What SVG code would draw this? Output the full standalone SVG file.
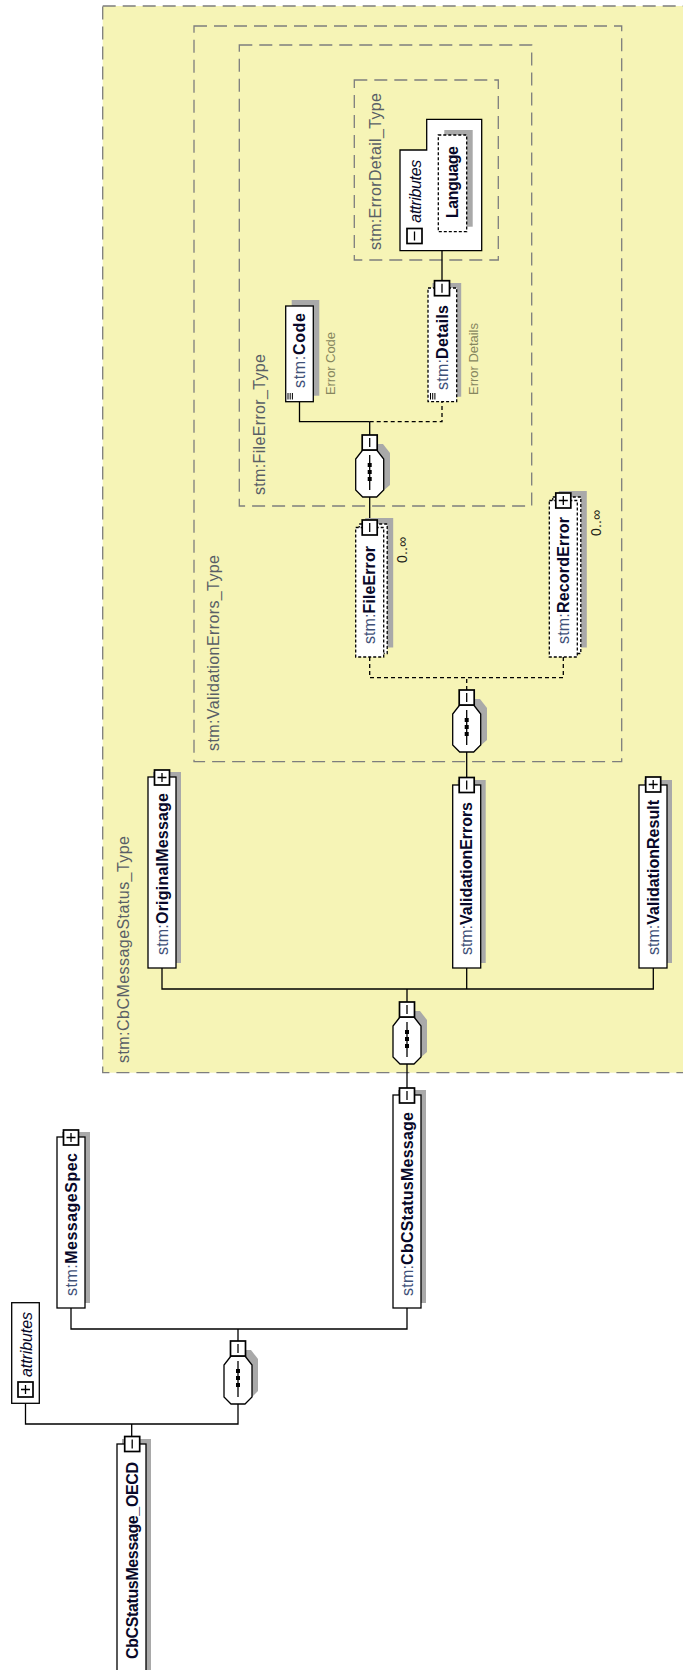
<svg xmlns="http://www.w3.org/2000/svg" width="683" height="1670" viewBox="0 0 683 1670">
<style>
.type{fill:#f6f4b6;stroke:#7d7d7d;stroke-width:1.3;stroke-dasharray:13 7}
.el{fill:#fff;stroke:#000;stroke-width:1.3}
.opt{fill:#fff;stroke:#000;stroke-width:1.3;stroke-dasharray:3 2}
.sh{fill:#a9a9a9}
.btn{fill:#fff;stroke:#000;stroke-width:1.7}
.bl{fill:none;stroke:#000;stroke-width:1.3}
.ln{fill:none;stroke:#000;stroke-width:1.3}
.dln{fill:none;stroke:#000;stroke-width:1.3;stroke-dasharray:4 3}
.seq{fill:#fff;stroke:#000;stroke-width:1.3}
text{font-family:"Liberation Sans",Arial,sans-serif}
.tl{font-size:16px;fill:#595f66}
.nm{font-size:16px;fill:#3f5178}
.b{font-weight:bold;fill:#080828}
.ann{font-size:13px;fill:#86865e}
.occ{font-size:14px;fill:#222218}
.att{font-size:16px;font-style:italic;fill:#080828}
</style>

<g id="CbCMessageStatus_Type">
<rect class="type" x="102.7" y="6" width="640" height="1066.7"/>
<text class="tl" transform="translate(128.7,1063) rotate(-90)" textLength="227" lengthAdjust="spacing">stm:CbCMessageStatus_Type</text>
</g>
<g id="ValidationErrors_Type">
<rect class="type" x="194" y="26" width="427.7" height="735.7"/>
<text class="tl" transform="translate(219,751) rotate(-90)" textLength="196" lengthAdjust="spacing">stm:ValidationErrors_Type</text>
</g>
<g id="FileError_Type">
<rect class="type" x="239.3" y="45" width="292.4" height="461"/>
<text class="tl" transform="translate(264.7,495) rotate(-90)" textLength="141" lengthAdjust="spacing">stm:FileError_Type</text>
</g>
<g id="ErrorDetail_Type">
<rect class="type" x="354.3" y="80" width="144" height="180"/>
<text class="tl" transform="translate(380.7,250) rotate(-90)" textLength="157" lengthAdjust="spacing">stm:ErrorDetail_Type</text>
</g>

<g id="connectors">
<path class="ln" d="M131.7,1436 V1424 M25.5,1403.3 V1424 H238 V1404"/>
<path class="ln" d="M238,1341 V1329 M71,1308 V1329 H407 V1308"/>
<path class="ln" d="M407,1088 V1064"/>
<path class="ln" d="M407,1002 V989 M162,968 V989 H653.3 V968 M466.7,968 V989"/>
<path class="ln" d="M466.7,777 V752"/>
<path class="dln" d="M466.7,690 V677.7 M369.7,657 V677.7 H563.3 V657"/>
<path class="ln" d="M369.7,520 V497"/>
<path class="ln" d="M369.7,435 V421.7 M299.5,401.7 V421.7 H369.7"/>
<path class="dln" d="M369.7,421.7 H442 V401.7"/>
<path class="ln" d="M442,280.7 V250.7"/>
</g>

<g id="CbCStatusMessage_OECD">
<rect class="sh" x="122" y="1439" width="29" height="240"/>
<rect class="el" x="117" y="1444" width="29" height="240"/>
<rect class="btn" x="124.7" y="1436.5" width="15" height="15"/>
<path class="bl" d="M132.2,1439.5 V1448.5"/>
<text class="nm b" transform="translate(137.7,1659) rotate(-90)" textLength="197" lengthAdjust="spacing">CbCStatusMessage_OECD</text>
</g>

<g id="attributes_top">
<rect class="el" x="11.7" y="1302.7" width="27.6" height="100.6"/>
<rect class="btn" x="18" y="1382" width="15" height="15"/>
<path class="bl" d="M25.5,1385 V1394 M21,1389.5 H30"/>
<text class="att" transform="translate(31.7,1377) rotate(-90)" textLength="65" lengthAdjust="spacing">attributes</text>
</g>

<g id="seq_top">
<polygon class="sh" points="237,1350 251,1350 258,1359 258,1391 251,1398 237,1398 230,1391 230,1359"/>
<polygon class="seq" points="231,1356 245,1356 252,1365 252,1397 245,1404 231,1404 224,1397 224,1365"/>
<path class="bl" d="M238,1361 V1397"/>
<rect x="236" y="1369" width="4" height="4"/><rect x="236" y="1376" width="4" height="4"/><rect x="236" y="1383" width="4" height="4"/>
<rect class="btn" x="230.5" y="1341" width="15" height="15"/>
<path class="bl" d="M238,1344 V1353"/>
</g>

<g id="MessageSpec">
<rect class="sh" x="62" y="1132" width="28" height="171"/>
<rect class="el" x="57" y="1137" width="28" height="171"/>
<rect class="btn" x="63.5" y="1130" width="15" height="15"/>
<path class="bl" d="M71,1133 V1142 M66.5,1137.5 H75.5"/>
<text class="nm" transform="translate(76.7,1296) rotate(-90)" textLength="143" lengthAdjust="spacing">stm:<tspan class="b">MessageSpec</tspan></text>
</g>

<g id="CbCStatusMessage">
<rect class="sh" x="398" y="1090" width="28" height="213"/>
<rect class="el" x="393" y="1095" width="28" height="213"/>
<rect class="btn" x="399.5" y="1088" width="15" height="15"/>
<path class="bl" d="M407,1091 V1100"/>
<text class="nm" transform="translate(412.7,1296) rotate(-90)" textLength="184" lengthAdjust="spacing">stm:<tspan class="b">CbCStatusMessage</tspan></text>
</g>

<g id="seq_main">
<polygon class="sh" points="406,1011 420,1011 427,1020 427,1052 420,1058 406,1058 399,1052 399,1020"/>
<polygon class="seq" points="400,1017 414,1017 421,1026 421,1057 414,1064 400,1064 393,1057 393,1026"/>
<path class="bl" d="M407,1022 V1057"/>
<rect x="405" y="1030" width="4" height="4"/><rect x="405" y="1037" width="4" height="4"/><rect x="405" y="1044" width="4" height="4"/>
<rect class="btn" x="399.5" y="1002" width="15" height="15"/>
<path class="bl" d="M407,1005 V1014"/>
</g>

<g id="OriginalMessage">
<rect class="sh" x="153" y="772" width="28" height="191"/>
<rect class="el" x="148" y="777" width="28" height="191"/>
<rect class="btn" x="154.5" y="770" width="15" height="15"/>
<path class="bl" d="M162,773 V782 M157.5,777.5 H166.5"/>
<text class="nm" transform="translate(167.7,955) rotate(-90)" textLength="162" lengthAdjust="spacing">stm:<tspan class="b">OriginalMessage</tspan></text>
</g>

<g id="ValidationErrors">
<rect class="sh" x="457.7" y="780" width="28" height="183"/>
<rect class="el" x="452.7" y="785" width="28" height="183"/>
<rect class="btn" x="459.2" y="777.5" width="15" height="15"/>
<path class="bl" d="M466.7,780.5 V789.5"/>
<text class="nm" transform="translate(472.4,955) rotate(-90)" textLength="153" lengthAdjust="spacing">stm:<tspan class="b">ValidationErrors</tspan></text>
</g>

<g id="ValidationResult">
<rect class="sh" x="644" y="780" width="28" height="183"/>
<rect class="el" x="639" y="785" width="28" height="183"/>
<rect class="btn" x="645.7" y="777" width="15" height="15"/>
<path class="bl" d="M653.2,780 V789 M648.7,784.5 H657.7"/>
<text class="nm" transform="translate(658.7,955) rotate(-90)" textLength="155" lengthAdjust="spacing">stm:<tspan class="b">ValidationResult</tspan></text>
</g>

<g id="seq_validation">
<polygon class="sh" points="466,699 480,699 487,708 487,740 480,746 466,746 459,740 459,708"/>
<polygon class="seq" points="459.7,705 473.7,705 480.7,714 480.7,745 473.7,752 459.7,752 452.7,745 452.7,714"/>
<path class="bl" d="M466.7,710 V745"/>
<rect x="464.7" y="718" width="4" height="4"/><rect x="464.7" y="725" width="4" height="4"/><rect x="464.7" y="732" width="4" height="4"/>
<rect class="btn" x="459.2" y="690" width="15" height="15"/>
<path class="bl" d="M466.7,693 V702"/>
</g>

<g id="FileError">
<rect class="sh" x="365.2" y="518" width="28" height="129.5"/>
<rect class="opt" x="359.2" y="524" width="28" height="129.5"/>
<rect class="opt" x="355.7" y="527.5" width="28" height="129.5"/>
<rect class="btn" x="362.2" y="520" width="15" height="15"/>
<path class="bl" d="M369.7,523 V532"/>
<text class="nm" transform="translate(375.4,644) rotate(-90)" textLength="98" lengthAdjust="spacing">stm:<tspan class="b">FileError</tspan></text>
<text class="occ" transform="translate(406.7,563) rotate(-90)" textLength="26" lengthAdjust="spacing">0..∞</text>
</g>

<g id="RecordError">
<rect class="sh" x="558.8" y="491" width="28" height="156.5"/>
<rect class="opt" x="552.8" y="497" width="28" height="156.5"/>
<rect class="opt" x="549.3" y="500.5" width="28" height="156.5"/>
<rect class="btn" x="555.8" y="493" width="15" height="15"/>
<path class="bl" d="M563.3,496 V505 M558.8,500.5 H567.8"/>
<text class="nm" transform="translate(569,644) rotate(-90)" textLength="127" lengthAdjust="spacing">stm:<tspan class="b">RecordError</tspan></text>
<text class="occ" transform="translate(600.7,536) rotate(-90)" textLength="26" lengthAdjust="spacing">0..∞</text>
</g>

<g id="seq_fileerror">
<polygon class="sh" points="369,444 383,444 390,453 390,485 383,491 369,491 362,485 362,453"/>
<polygon class="seq" points="362.7,450 376.7,450 383.7,459 383.7,490 376.7,497 362.7,497 355.7,490 355.7,459"/>
<path class="bl" d="M369.7,455 V490"/>
<rect x="367.7" y="463" width="4" height="4"/><rect x="367.7" y="470" width="4" height="4"/><rect x="367.7" y="477" width="4" height="4"/>
<rect class="btn" x="362.2" y="435" width="15" height="15"/>
<path class="bl" d="M369.7,438 V447"/>
</g>

<g id="Code">
<rect class="sh" x="291.7" y="300" width="27.6" height="95.7"/>
<rect class="el" x="285.7" y="306" width="27.6" height="95.7"/>
<path class="bl" d="M288,393 V399.5 M290.2,393 V399.5 M292.4,393 V399.5" style="stroke-width:1"/>
<text class="nm" transform="translate(305.2,388) rotate(-90)" textLength="75" lengthAdjust="spacing">stm:<tspan class="b">Code</tspan></text>
<text class="ann" transform="translate(335.2,395) rotate(-90)" textLength="63" lengthAdjust="spacing">Error Code</text>
</g>

<g id="Details">
<rect class="sh" x="432.5" y="283" width="28.7" height="113.7"/>
<rect class="opt" x="428" y="288" width="28.7" height="113.7"/>
<path class="bl" d="M430.5,393 V399.5 M432.7,393 V399.5 M434.9,393 V399.5" style="stroke-width:1"/>
<rect class="btn" x="434.5" y="280.7" width="15" height="15"/>
<path class="bl" d="M442,283.7 V292.7"/>
<text class="nm" transform="translate(448.2,390) rotate(-90)" textLength="85" lengthAdjust="spacing">stm:<tspan class="b">Details</tspan></text>
<text class="ann" transform="translate(477.7,395) rotate(-90)" textLength="72" lengthAdjust="spacing">Error Details</text>
</g>

<g id="attributes_errordetail">
<polygon class="el" points="400,250.7 400,150 426.7,150 426.7,119.3 481.7,119.3 481.7,250.7"/>
<rect class="btn" x="407" y="228.5" width="15" height="15"/>
<path class="bl" d="M414.5,231.5 V240.5"/>
<text class="att" transform="translate(420.7,222.7) rotate(-90)" textLength="63" lengthAdjust="spacing">attributes</text>
</g>

<g id="Language">
<rect class="sh" x="444.3" y="130" width="28.4" height="96.7"/>
<rect class="opt" x="438.3" y="135" width="28.4" height="96.7"/>
<text class="att b" style="font-style:normal" transform="translate(458.2,218) rotate(-90)" textLength="72" lengthAdjust="spacing">Language</text>
</g>
</svg>
